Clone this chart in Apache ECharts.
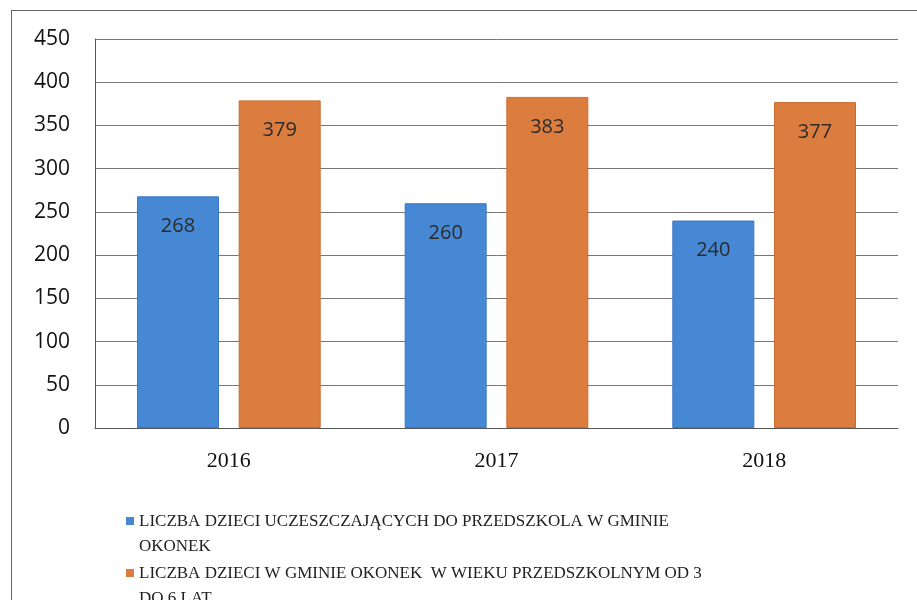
<!DOCTYPE html>
<html>
<head>
<meta charset="utf-8">
<script src="https://cdn.jsdelivr.net/npm/echarts@6/dist/echarts.min.js"></script>
<style>
  html, body { margin: 0; padding: 0; background: #fff; }
  #main { width: 917px; height: 600px; }
  #frame { position: absolute; left: 11px; top: 10px; width: 920px; height: 620px; border: 1px solid #666; pointer-events: none; }
</style>
</head>
<body>
<div id="main"></div>
<div id="frame"></div>
<script>
// dane z wykresu
var years = ['2016', '2017', '2018'];
var uczeszczajace = [268, 260, 240];
var wszystkie = [379, 383, 377];
var seriesNames = [
    'LICZBA DZIECI UCZESZCZAJĄCYCH DO PRZEDSZKOLA W GMINIE\nOKONEK',
    'LICZBA DZIECI W GMINIE OKONEK  W WIEKU PRZEDSZKOLNYM OD 3\nDO 6 LAT'
];
var yTicks = [0, 50, 100, 150, 200, 250, 300, 350, 400, 450];

var myChart = echarts.init(document.getElementById('main'));

var labelStyle = {
    show: true,
    position: 'insideTop',
    distance: 20,
    color: '#2b2b2b',
    fontFamily: 'Open Sans',
    fontSize: 20
};

// kwadracik legendy przy pierwszej linii tekstu (a nie na srodku)
var legendIcon = 'path://M0,0h0.01v0.01h-0.01z M0,8h8v8h-8z M0,49.99h0.01v0.01h-0.01z';

var option = {
    animation: false,
    grid: { left: 95, right: 19, top: 39, bottom: 172 },
    legend: {
        orient: 'vertical',
        left: 121,
        top: 504,
        height: 200,
        itemWidth: 8,
        itemHeight: 50,
        itemGap: 2,
        icon: legendIcon,
        itemStyle: { borderWidth: 0 },
        textStyle: {
            fontFamily: 'Liberation Serif',
            fontSize: 17,
            lineHeight: 25,
            color: '#222'
        },
        data: seriesNames
    },
    xAxis: {
        type: 'category',
        data: years,
        axisLine: { lineStyle: { color: '#555' } },
        axisTick: { show: false },
        axisLabel: {
            margin: 22,
            color: '#111',
            fontFamily: 'Liberation Serif',
            fontSize: 22
        }
    },
    yAxis: {
        type: 'value',
        min: yTicks[0],
        max: yTicks[yTicks.length - 1],
        interval: 50,
        axisLine: { show: true, lineStyle: { color: '#555' } },
        axisTick: { show: false },
        axisLabel: {
            margin: 25,
            color: '#111',
            fontFamily: 'Open Sans',
            fontSize: 21
        },
        splitLine: { lineStyle: { color: '#777' } }
    },
    series: [
        {
            name: seriesNames[0],
            type: 'bar',
            data: uczeszczajace,
            barWidth: 82,
            barGap: '24%',
            itemStyle: { color: '#4688d4', borderColor: '#3a78c2', borderWidth: 1 },
            label: labelStyle
        },
        {
            name: seriesNames[1],
            type: 'bar',
            data: wszystkie,
            barWidth: 82,
            itemStyle: { color: '#dc7d40', borderColor: '#cc6d30', borderWidth: 1 },
            label: labelStyle
        }
    ]
};

myChart.setOption(option);
</script>
</body>
</html>
